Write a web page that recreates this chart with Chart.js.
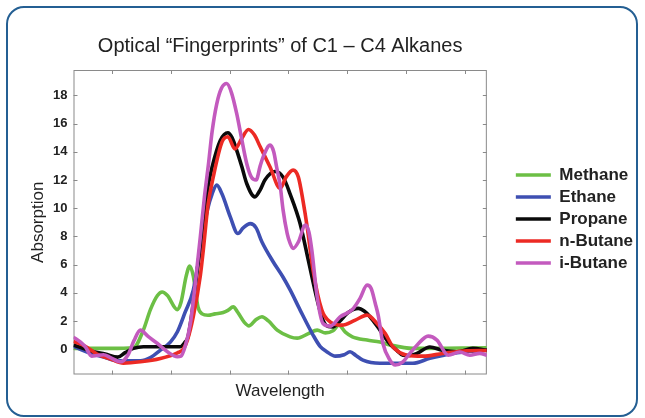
<!DOCTYPE html>
<html>
<head>
<meta charset="utf-8">
<script src="https://cdn.jsdelivr.net/npm/chart.js@4.4.1/dist/chart.umd.min.js"></script>
<style>
  html, body { margin: 0; padding: 0; background: #fff; }
  #wrap { position: relative; width: 645px; height: 418px; overflow: hidden; }
  #frame { position: absolute; left: 6px; top: 6px; width: 632px; height: 411px; box-sizing: border-box;
           border: 2px solid #245f93; border-radius: 18px; }
  canvas { position: absolute; left: 0; top: 0; }
</style>
</head>
<body>
<div id="wrap">
  <div id="frame"></div>
  <canvas id="chart" width="645" height="418"></canvas>
</div>
<script>
// Absorption spectra (arbitrary wavelength units)
const wavelengthTicks = [0, 1, 2, 3, 4, 5, 6];
const absorptionTicks = [0, 2, 4, 6, 8, 10, 12, 14, 16, 18];

const methaneX = [-0.66, -0.03, 0.36, 0.53, 0.65, 0.77, 0.85, 0.94, 1.11, 1.17, 1.26, 1.32, 1.38, 1.46, 1.53, 1.63, 1.75, 1.89, 1.97, 2.06,
                  2.14, 2.25, 2.33, 2.45, 2.55, 2.66, 2.81, 3.03, 3.15, 3.34, 3.49, 3.63, 3.76, 3.86, 3.97, 4.09, 4.34, 4.56, 4.73, 5.12, 6.38];
const methaneY = [0.05, 0.05, 0.1, 1.35, 2.8, 3.8, 4.05, 3.8, 2.8, 3.3, 5.2, 5.9, 5.2, 3.0, 2.5, 2.4, 2.5, 2.6, 2.75, 3.0,
                  2.6, 1.9, 1.65, 2.1, 2.3, 2.0, 1.35, 0.87, 0.78, 1.1, 1.35, 1.15, 1.3, 1.7, 1.2, 0.87, 0.64, 0.5, 0.3, 0.05, 0.1];

const ethaneX = [-0.66, -0.37, -0.12, 0.09, 0.48, 0.65, 0.82, 0.99, 1.11, 1.24, 1.38, 1.50, 1.62, 1.70, 1.78, 1.87, 2.01, 2.14, 2.23, 2.35,
                 2.45, 2.55, 2.74, 2.91, 3.03, 3.20, 3.42, 3.54, 3.66, 3.80, 3.95, 4.05, 4.15, 4.27, 4.56, 5.12, 5.41, 5.80, 6.38];
const ethaneY = [0.2, -0.3, -0.6, -0.83, -0.83, -0.6, -0.07, 0.5, 1.23, 2.6, 4.18, 7.0, 9.86, 11.0, 11.63, 11.0, 9.38, 8.2, 8.6, 8.9,
                 8.6, 7.6, 6.2, 5.1, 4.2, 2.77, 1.0, 0.2, -0.2, -0.5, -0.4, -0.19, -0.45, -0.78, -1.0, -1.0, -0.65, -0.3, -0.07];

const propaneX = [-0.66, -0.32, -0.12, 0.09, 0.22, 0.36, 0.53, 1.16, 1.24, 1.29, 1.38, 1.46, 1.55, 1.63, 1.70, 1.84, 1.97, 2.04, 2.12, 2.21,
                  2.29, 2.43, 2.52, 2.60, 2.77, 2.91, 3.03, 3.20, 3.34, 3.49, 3.59, 3.68, 3.76, 3.88, 4.00, 4.10, 4.19, 4.29, 4.39, 4.56,
                  4.73, 4.85, 4.95, 5.07, 5.19, 5.41, 5.62, 5.87, 6.14, 6.38];
const propaneY = [0.3, -0.19, -0.35, -0.57, -0.25, 0.05, 0.17, 0.17, 0.5, 0.87, 3.24, 6.0, 9.15, 11.5, 12.9, 14.8, 15.35, 15.0, 14.1, 12.9,
                  11.75, 10.8, 11.3, 12.0, 12.6, 12.2, 11.0, 8.9, 6.3, 3.5, 2.06, 1.6, 1.58, 2.0, 2.53, 2.8, 2.89, 2.7, 2.3, 1.35,
                  0.35, -0.1, -0.43, -0.45, -0.3, 0.15, -0.07, -0.19, 0.05, -0.07];

const nButaneX = [-0.66, -0.46, -0.26, -0.03, 0.19, 0.48, 0.82, 1.11, 1.21, 1.28, 1.38, 1.50, 1.55, 1.63, 1.72, 1.87, 1.97, 2.09, 2.20, 2.32,
                  2.42, 2.52, 2.69, 2.86, 2.96, 3.08, 3.17, 3.25, 3.32, 3.42, 3.57, 3.71, 3.91, 4.14, 4.34, 4.51, 4.65, 4.78, 5.02, 5.29,
                  5.63, 6.04, 6.38];
const nButaneY = [0.55, 0.2, -0.35, -0.7, -1.0, -0.9, -0.66, -0.26, 0.0, 0.64, 2.3, 5.2, 7.0, 10.2, 12.2, 14.7, 15.06, 14.2, 14.9, 15.58,
                  15.2, 14.35, 12.9, 11.4, 12.2, 12.7, 12.2, 10.5, 8.67, 5.6, 2.77, 1.94, 1.7, 2.06, 2.41, 1.82, 1.1, 0.17, -0.43, -0.5,
                  -0.31, -0.12, -0.1];

const iButaneX = [-0.66, -0.54, -0.46, -0.35, -0.26, -0.15, -0.03, 0.14, 0.27, 0.37, 0.48, 0.61, 0.77, 0.94, 1.11, 1.17, 1.24, 1.33, 1.41, 1.50,
                  1.57, 1.64, 1.70, 1.78, 1.86, 1.95, 2.03, 2.12, 2.20, 2.29, 2.37, 2.45, 2.52, 2.57, 2.69, 2.75, 2.80, 2.86, 2.91, 2.98,
                  3.03, 3.08, 3.17, 3.29, 3.35, 3.40, 3.49, 3.59, 3.71, 3.88, 4.09, 4.22, 4.34, 4.41, 4.48, 4.53, 4.61, 4.73, 4.82, 4.95,
                  5.07, 5.19, 5.38, 5.53, 5.72, 5.92, 6.09, 6.26, 6.38];
const iButaneY = [0.85, 0.5, 0.17, -0.5, -0.45, -0.4, -0.6, -0.9, -0.4, 0.6, 1.35, 0.9, 0.4, -0.19, -0.54, -0.5, 0.17, 1.82, 4.5, 7.96,
                  10.8, 13.17, 15.4, 17.4, 18.5, 18.84, 18.2, 16.7, 15.0, 13.17, 12.2, 12.0, 13.0, 13.64, 14.47, 14.0, 12.9, 11.6, 9.86, 8.2,
                  7.5, 7.14, 7.6, 8.8, 8.3, 7.0, 3.7, 1.82, 1.63, 2.29, 2.81, 3.6, 4.54, 4.3, 3.24, 2.4, 0.4, -0.78, -1.13, -0.9,
                  -0.3, 0.28, 0.92, 0.64, -0.43, -0.2, -0.43, -0.3, -0.43];

const FONT = '"Liberation Sans", Arial, Helvetica, sans-serif';

function toPoints(xs, ys) {
    return xs.map((x, i) => ({ x: x, y: ys[i] }));
}

function series(label, xs, ys, color, order) {
    return {
        label: label,
        data: toPoints(xs, ys),
        borderColor: color,
        backgroundColor: color,
        borderWidth: 3.6,
        pointRadius: 0,
        cubicInterpolationMode: 'monotone',
        order: order
    };
}

// Mathematica-like frame with inward tick marks on all four sides
const framePlugin = {
    id: 'frame',
    afterLayout(chart) {
        // nudge the legend away from the plot frame, like the original figure
        const lg = chart.legend;
        lg.left += 24; lg.right += 24;
        lg.top += 9; lg.bottom += 9;
    },
    beforeDatasetsDraw(chart) {
        const { ctx, chartArea: a, scales: { x, y } } = chart;
        ctx.save();
        ctx.strokeStyle = '#8a8a8a';
        ctx.lineWidth = 1;
        ctx.strokeRect(a.left + 0.5, a.top + 0.5, a.width - 1, a.height - 1);
        ctx.beginPath();
        wavelengthTicks.forEach(t => {
            const px = Math.round(x.getPixelForValue(t)) + 0.5;
            ctx.moveTo(px, a.top); ctx.lineTo(px, a.top + 4);
            ctx.moveTo(px, a.bottom); ctx.lineTo(px, a.bottom - 4);
        });
        absorptionTicks.forEach(t => {
            const py = Math.round(y.getPixelForValue(t)) + 0.5;
            ctx.moveTo(a.left, py); ctx.lineTo(a.left + 4, py);
            ctx.moveTo(a.right, py); ctx.lineTo(a.right - 4, py);
        });
        ctx.stroke();
        ctx.restore();
    }
};

const ctx = document.getElementById('chart').getContext('2d');
new Chart(ctx, {
    type: 'line',
    data: {
        datasets: [
            series('Methane', methaneX, methaneY, '#6cbf45', 5),
            series('Ethane', ethaneX, ethaneY, '#3e4fb2', 4),
            series('Propane', propaneX, propaneY, '#0a0a0a', 3),
            series('n-Butane', nButaneX, nButaneY, '#ec2a24', 2),
            series('i-Butane', iButaneX, iButaneY, '#c35abe', 1)
        ]
    },
    options: {
        responsive: false,
        animation: false,
        layout: { padding: { top: 10, left: 20, right: 26, bottom: 8 } },
        scales: {
            x: {
                type: 'linear',
                min: -0.66,
                max: 6.38,
                afterBuildTicks: s => { s.ticks = wavelengthTicks.map(v => ({ value: v })); },
                afterFit: s => { s.height = 35.5; },
                ticks: { display: false },
                grid: { display: false, drawTicks: false },
                border: { display: false },
                title: {
                    display: true,
                    text: 'Wavelength',
                    color: '#222',
                    font: { family: FONT, size: 17 },
                    padding: 8
                }
            },
            y: {
                type: 'linear',
                min: -1.8,
                max: 19.8,
                afterBuildTicks: s => { s.ticks = absorptionTicks.map(v => ({ value: v })); },
                afterFit: s => { s.width = 53.5; },
                ticks: {
                    color: '#222',
                    padding: 6,
                    font: { family: FONT, size: 13, weight: 'bold' }
                },
                grid: { display: false, drawTicks: false },
                border: { display: false },
                title: {
                    display: true,
                    text: 'Absorption',
                    color: '#222',
                    font: { family: FONT, size: 17 },
                    padding: 8
                }
            }
        },
        plugins: {
            title: {
                display: true,
                text: 'Optical \u201cFingerprints\u201d of C1 \u2013 C4 Alkanes',
                fullSize: false,
                color: '#222',
                font: { family: FONT, size: 20, weight: 'normal' },
                padding: { top: 24, bottom: 12 }
            },
            legend: {
                position: 'right',
                labels: {
                    usePointStyle: true,
                    pointStyle: 'line',
                    pointStyleWidth: 35,
                    padding: 5,
                    color: '#222',
                    font: { family: FONT, size: 17, weight: 'bold' },
                    sort: (a, b) => a.datasetIndex - b.datasetIndex
                }
            },
            tooltip: { enabled: false }
        }
    },
    plugins: [framePlugin]
});
</script>
</body>
</html>
